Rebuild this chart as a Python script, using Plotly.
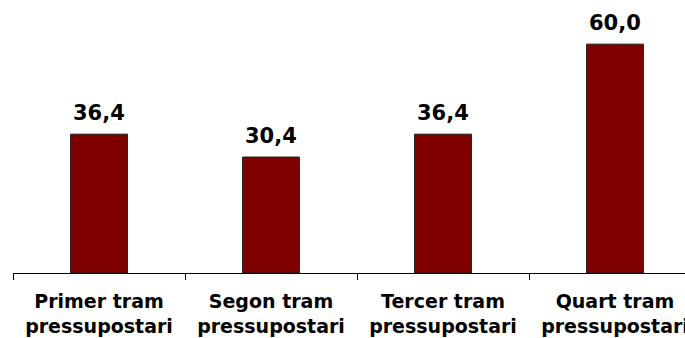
import plotly.graph_objects as go

categories = ["Primer tram<br>pressupostari", "Segon tram<br>pressupostari",
              "Tercer tram<br>pressupostari", "Quart tram<br>pressupostari"]
values = [36.4, 30.4, 36.4, 60.0]
value_labels = [f"{v:.1f}".replace(".", ",") for v in values]

fig = go.Figure()
fig.add_trace(go.Bar(
    x=categories, y=values, width=0.33,
    marker=dict(color="#800000", line=dict(color="#1a1a1a", width=1)),
    hoverinfo="skip",
))

for c, v, t in zip(categories, values, value_labels):
    fig.add_annotation(x=c, y=v, text=t, showarrow=False, yanchor="bottom",
                       yshift=7,
                       font=dict(family="DejaVu Sans", size=21, color="black", weight="bold"))

fig.update_layout(
    width=685, height=338,
    margin=dict(l=13, r=0, t=6, b=65, autoexpand=False),
    paper_bgcolor="white", plot_bgcolor="white",
    showlegend=False,
    xaxis=dict(range=[-0.5, 3.407], showline=True, linecolor="black", linewidth=1,
               ticks="outside", tickson="boundaries", ticklen=6, tickcolor="black",
               tickwidth=1, showgrid=False, automargin=False, ticklabelstandoff=11,
               tickfont=dict(family="DejaVu Sans", size=19, color="black", weight="bold")),
    yaxis=dict(range=[0, 70], visible=False, showgrid=False, zeroline=False,
               automargin=False),
)

fig.write_html("out.html", config={"displayModeBar": False},
               post_script="document.body.style.margin='0';")
